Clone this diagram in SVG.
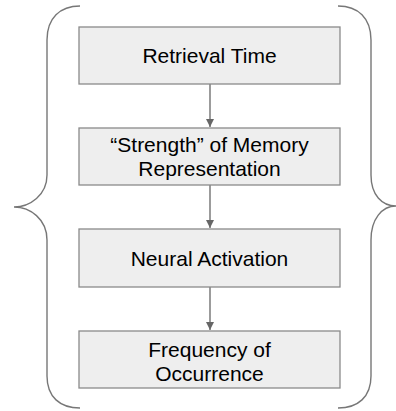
<svg xmlns="http://www.w3.org/2000/svg" width="396" height="411" viewBox="0 0 396 411">
<style>
.box{fill:#eeeeee;stroke:#8a8a8a;stroke-width:1.3}
.lbl{font-family:"Liberation Sans",Arial,sans-serif;font-size:21px;fill:#000;text-anchor:middle}
.conn{stroke:#666;stroke-width:1.3;fill:none}
.brace{stroke:#777;stroke-width:1.4;fill:none}
</style>
<defs>
<marker id="ah" viewBox="0 0 10 10" refX="10" refY="5" markerWidth="8" markerHeight="10" markerUnits="userSpaceOnUse" orient="auto">
<path d="M0,0 L10,5 L0,10 Z" fill="#666"/>
</marker>
</defs>
<rect width="396" height="411" fill="#fff"/>
<g id="braces">
<path class="brace" d="M80 6 C60 6 47 18 47 40 L47 175 C47 195 30 207 14 207 C30 207 47 219 47 240 L47 376 C47 397 60 408 80 408"/>
<path class="brace" d="M338 6 C358 6 371 18 371 40 L371 175 C371 195 382 206 396 206 C382 206 371 219 371 240 L371 376 C371 397 358 408 338 408"/>
</g>
<g id="connectors">
<line class="conn" x1="210" y1="84" x2="210" y2="127" marker-end="url(#ah)"/>
<line class="conn" x1="210" y1="185" x2="210" y2="228" marker-end="url(#ah)"/>
<line class="conn" x1="210" y1="287" x2="210" y2="330" marker-end="url(#ah)"/>
</g>
<g id="n1">
<rect class="box" x="79" y="27" width="261" height="57"/>
<text class="lbl" x="209.5" y="63">Retrieval Time</text>
</g>
<g id="n2">
<rect class="box" x="79" y="128" width="261" height="57"/>
<text class="lbl" x="209.5" y="152">“Strength” of Memory</text>
<text class="lbl" x="209.5" y="176">Representation</text>
</g>
<g id="n3">
<rect class="box" x="79" y="229" width="261" height="58"/>
<text class="lbl" x="209.5" y="266">Neural Activation</text>
</g>
<g id="n4">
<rect class="box" x="79" y="331" width="261" height="57"/>
<text class="lbl" x="209.5" y="357">Frequency of</text>
<text class="lbl" x="209.5" y="381">Occurrence</text>
</g>
</svg>
